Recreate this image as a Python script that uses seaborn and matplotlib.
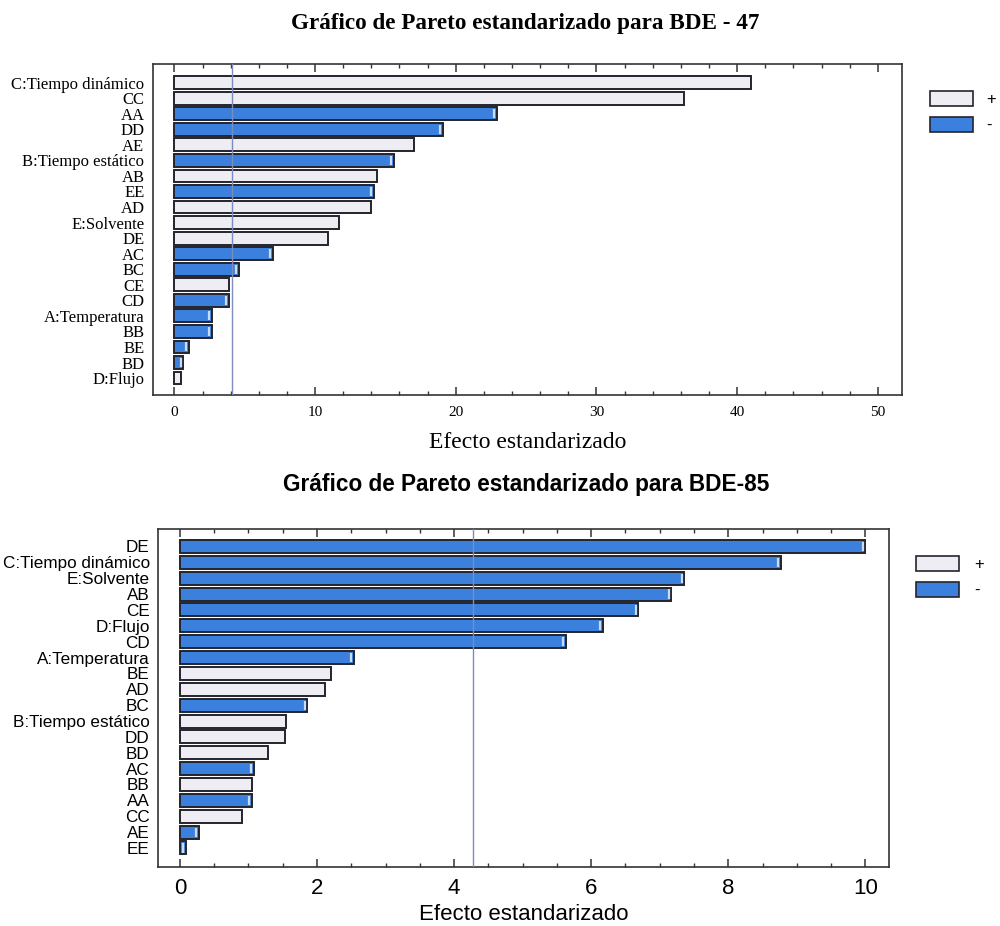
import matplotlib
matplotlib.use("Agg")
import matplotlib.pyplot as plt
from matplotlib.colors import to_hex
from matplotlib.patches import Patch
from matplotlib.ticker import MultipleLocator
import pandas as pd
import seaborn as sns

# --- BDE-47 standardized effects ---
factors_47 = ["C:Tiempo dinámico", "CC", "AA", "DD", "AE", "B:Tiempo estático",
              "AB", "EE", "AD", "E:Solvente", "DE", "AC", "BC", "CE", "CD",
              "A:Temperatura", "BB", "BE", "BD", "D:Flujo"]
effects_47 = [41.0, 36.2, 22.9, 19.1, 17.0, 15.6, 14.4, 14.2, 14.0, 11.7,
              10.9, 7.0, 4.6, 3.9, 3.85, 2.65, 2.65, 1.06, 0.64, 0.47]
signs_47 = ["+", "+", "-", "-", "+", "-", "+", "-", "+", "+",
            "+", "-", "-", "+", "-", "-", "-", "-", "-", "+"]
crit_47 = 4.08

# --- BDE-85 standardized effects ---
factors_85 = ["DE", "C:Tiempo dinámico", "E:Solvente", "AB", "CE", "D:Flujo", "CD",
              "A:Temperatura", "BE", "AD", "BC", "B:Tiempo estático", "DD", "BD",
              "AC", "BB", "AA", "CC", "AE", "EE"]
effects_85 = [10.0, 8.77, 7.36, 7.17, 6.69, 6.17, 5.63, 2.54, 2.20, 2.12,
              1.86, 1.55, 1.54, 1.28, 1.08, 1.05, 1.05, 0.90, 0.28, 0.09]
signs_85 = ["-", "-", "-", "-", "-", "-", "-", "-", "+", "+",
            "-", "+", "+", "+", "-", "+", "-", "+", "-", "-"]
crit_85 = 4.27

LIGHT = "#eeedf3"
BLUE = "#3a80dc"
EDGE = "#24242c"
SHINE = "#c9dcf5"
palette = {"+": LIGHT, "-": BLUE}

sns.set_theme(style="white")
plt.rcParams.update({"text.color": "black", "axes.labelcolor": "black",
                     "xtick.color": "black", "ytick.color": "black"})
fig = plt.figure(figsize=(10, 9.26), dpi=100)


def pareto(ax, factors, effects, signs, crit, family, xlim, ylim,
           major, minor, tick_fs, ylab_fs, xlab_fs, title, title_fs, title_xy,
           xlabel_pad, shine_off):
    df = pd.DataFrame({"factor": factors, "effect": effects, "signo": signs})
    sns.barplot(data=df, y="factor", x="effect", hue="signo", order=factors,
                hue_order=["+", "-"], palette=palette, saturation=1, dodge=False,
                orient="h", width=0.82, edgecolor=EDGE, linewidth=1.4,
                legend=False, ax=ax)
    # light glint near the end of each negative bar
    for p in list(ax.patches):
        if to_hex(p.get_facecolor()) == BLUE and p.get_width() > 0:
            xe = p.get_x() + p.get_width() - shine_off
            ax.plot([xe, xe], [p.get_y() + 0.12, p.get_y() + p.get_height() - 0.12],
                    color=SHINE, lw=1.6, solid_capstyle="butt", zorder=4)
    ax.axvline(crit, color="#7d8bbd", lw=1.0, zorder=3)
    ax.set_xlim(*xlim)
    ax.set_ylim(*ylim)
    ax.xaxis.set_major_locator(MultipleLocator(major))
    ax.xaxis.set_minor_locator(MultipleLocator(minor))
    ax.tick_params(axis="x", which="both", direction="in", top=True, bottom=True,
                   color="#333333", labelsize=tick_fs, pad=8)
    ax.tick_params(axis="x", which="major", length=6, width=1.1)
    ax.tick_params(axis="x", which="minor", length=3, width=1.0)
    ax.tick_params(axis="y", length=0, labelsize=ylab_fs, pad=6)
    for lab in ax.get_xticklabels() + ax.get_yticklabels():
        lab.set_family(family)
    for s in ax.spines.values():
        s.set_color("#333333")
        s.set_linewidth(1.2)
    ax.set_ylabel("")
    ax.set_xlabel("Efecto estandarizado", family=family, fontsize=xlab_fs,
                  labelpad=xlabel_pad)
    fig.text(title_xy[0], title_xy[1], title, ha="center", va="center",
             family=family, fontsize=title_fs, fontweight="bold")
    handles = [Patch(facecolor=LIGHT, edgecolor=EDGE, linewidth=1.2),
               Patch(facecolor=BLUE, edgecolor=EDGE, linewidth=1.2)]
    return handles


ax1 = fig.add_axes([0.1527, 1 - 395 / 926, 0.749, 331 / 926])
h1 = pareto(ax1, factors_47, effects_47, signs_47, crit_47,
            ["Liberation Serif", "DejaVu Serif"], (-1.54, 51.7), (20.09, -1.2),
            10, 2, 11, 12, 17, "Gráfico de Pareto estandarizado para BDE - 47",
            16.7, (0.525, 1 - 24 / 926), 9, 0.2)
ax1.legend(handles=h1, labels=["+", "-"], loc="upper left",
           bbox_to_anchor=(0.930, 1 - 91 / 926), bbox_transform=fig.transFigure,
           frameon=False, handlelength=2.6, handleheight=1.0, labelspacing=0.6,
           handletextpad=0.8, borderpad=0, borderaxespad=0,
           prop={"family": "Liberation Sans", "size": 12})

ax2 = fig.add_axes([0.158, 1 - 866.7 / 926, 0.7313, 337.7 / 926])
h2 = pareto(ax2, factors_85, effects_85, signs_85, crit_85,
            ["Liberation Sans", "DejaVu Sans"], (-0.32, 10.35), (20.18, -1.1),
            2, 0.5, 16, 12.3, 16, "Gráfico de Pareto estandarizado para BDE-85",
            16.3, (0.526, 1 - 485 / 926), 4, 0.04)
ax2.legend(handles=h2, labels=["+", "-"], loc="upper left",
           bbox_to_anchor=(0.916, 1 - 556 / 926), bbox_transform=fig.transFigure,
           frameon=False, handlelength=2.6, handleheight=1.0, labelspacing=0.6,
           handletextpad=0.9, borderpad=0, borderaxespad=0,
           prop={"family": "Liberation Sans", "size": 12})

fig.savefig("out.png", dpi=100)
